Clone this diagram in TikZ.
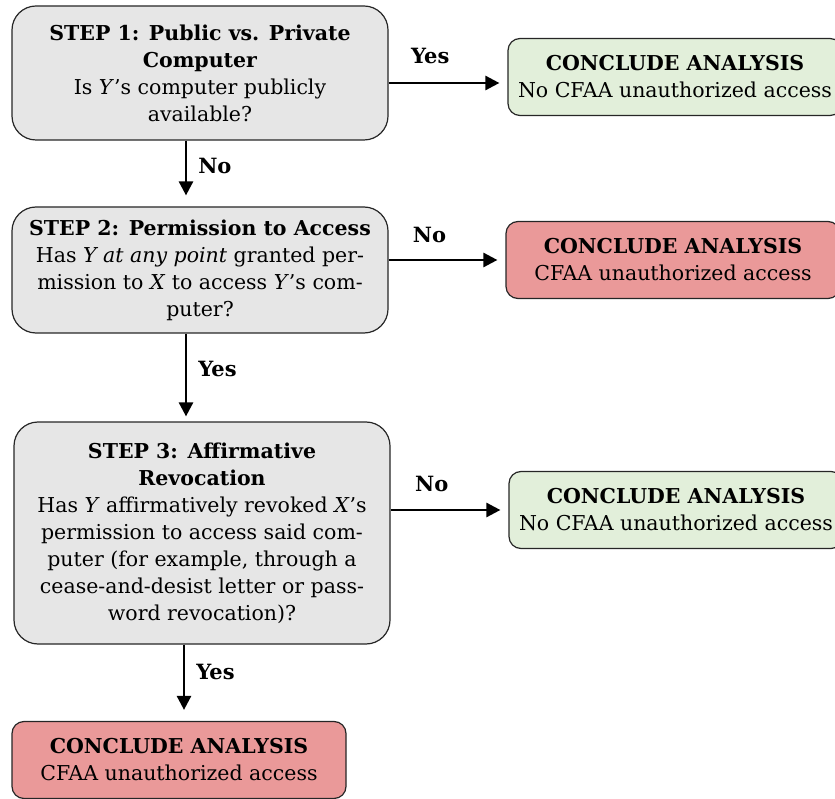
\documentclass[tikz,border=0pt]{standalone}
\usepackage{fontspec}
\setmainfont{DejaVu Serif}
\usetikzlibrary{arrows.meta}

\definecolor{boxgray}{RGB}{230,230,230}
\definecolor{okgreen}{RGB}{226,239,218}
\definecolor{badred}{RGB}{234,153,153}

\tikzset{
  stepbox/.style={draw=black!85, fill=boxgray, rounded corners=24pt, line width=1.2pt,
    align=center, minimum width=376pt, inner sep=0pt, font=\fontsize{20.5}{27}\selectfont},
  endbox/.style={draw=black!85, rounded corners=12pt, line width=1.2pt, align=center,
    minimum width=334pt, minimum height=77pt, inner sep=0pt, font=\fontsize{20.5}{27}\selectfont},
  flow/.style={-{Triangle[length=14pt,width=14pt]}, line width=2.6pt},
  lab/.style={font=\fontsize{21}{22}\selectfont\bfseries, inner sep=3pt}
}

\begin{document}
\begin{tikzpicture}[x=1pt,y=-1pt]
\useasboundingbox (0,0) rectangle (835,799);
\clip (0,0) rectangle (835,799);

% questions
\node[stepbox, minimum height=134pt] (s1) at (200,73)
  {\textbf{STEP 1: Public vs. Private}\\ \textbf{Computer}\\
   Is \textit{Y}'s computer publicly\\ available?};
\node[stepbox, minimum height=126pt] (s2) at (200,270)
  {\textbf{STEP 2: Permission to Access}\\
   Has \textit{Y at any point} granted per-\\
   mission to \textit{X} to access \textit{Y}'s com-\\ puter?};
\node[stepbox, minimum height=222pt] (s3) at (202,533)
  {\textbf{STEP 3: Affirmative}\\ \textbf{Revocation}\\
   Has \textit{Y} affirmatively revoked \textit{X}'s\\
   permission to access said com-\\
   puter (for example, through a\\
   cease-and-desist letter or pass-\\
   word revocation)?};

% outcomes
\node[endbox, fill=okgreen] (c1) at (675,77)
  {\textbf{CONCLUDE ANALYSIS}\\ No CFAA unauthorized access};
\node[endbox, fill=badred] (c2) at (673,260)
  {\textbf{CONCLUDE ANALYSIS}\\ CFAA unauthorized access};
\node[endbox, fill=okgreen] (c3) at (676,510)
  {\textbf{CONCLUDE ANALYSIS}\\ No CFAA unauthorized access};
\node[endbox, fill=badred] (c4) at (179,760)
  {\textbf{CONCLUDE ANALYSIS}\\ CFAA unauthorized access};

% connectors
\draw[flow, shorten >=8pt] ([yshift=-6pt]s1.east |- c1.west) -- ([yshift=-6pt]c1.west)
  node[lab, pos=.35, above=15pt] {Yes};
\draw[flow, shorten >=11pt] ([xshift=-14pt]s1.south) -- ([xshift=-14pt]s2.north)
  node[lab, pos=.38, right=8pt] {No};
\draw[flow, shorten >=8pt] (s2.east |- c2.west) -- (c2.west)
  node[lab, pos=.35, above=13pt] {No};
\draw[flow, shorten >=5pt] ([xshift=-14pt]s2.south) -- ([xshift=-14pt]s2.south |- s3.north)
  node[lab, pos=.4, right=8pt] {Yes};
\draw[flow, shorten >=8pt] (s3.east |- c3.west) -- (c3.west)
  node[lab, pos=.35, above=14pt] {No};
\draw[flow, shorten >=11pt] ([xshift=-18pt]s3.south) -- ([xshift=-18pt]s3.south |- c4.north)
  node[lab, pos=.36, right=8pt] {Yes};
\end{tikzpicture}
\end{document}
